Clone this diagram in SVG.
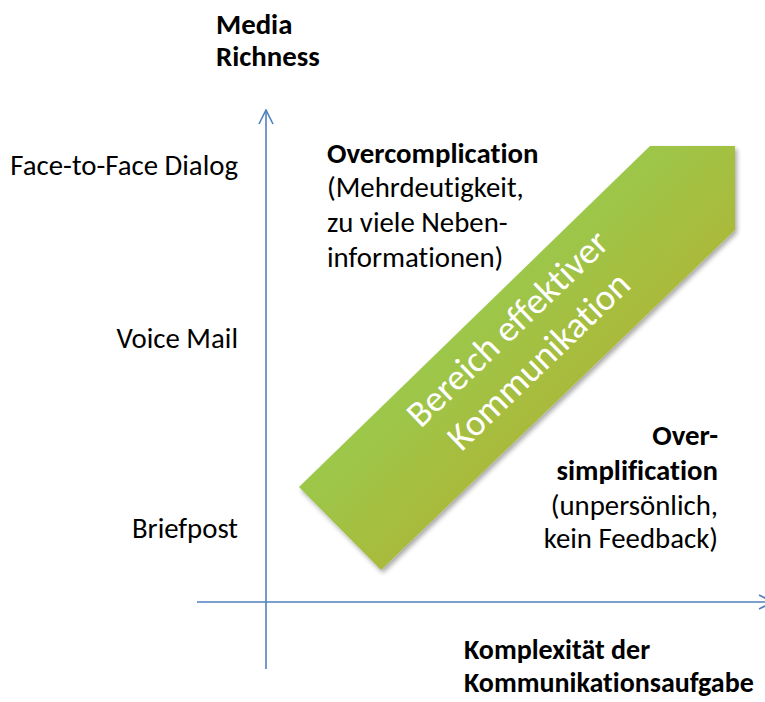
<svg xmlns="http://www.w3.org/2000/svg" width="765" height="702" viewBox="0 0 765 702">
  <style>
    text { font-variant-ligatures: none; font-feature-settings: "liga" 0, "dlig" 0; }
    .lbl { font-family: Carlito, Calibri, Lato, "Liberation Sans", sans-serif; font-size: 28.8px; fill: #000000; }
    .b { font-weight: bold; }
    .axis { stroke: #4F81BD; stroke-width: 1.6; fill: none; }
    .band-text { font-family: Carlito, Calibri, Lato, "Liberation Sans", sans-serif; font-size: 37px; font-weight: normal; fill: #FFFFFF; text-anchor: middle; }
  </style>
  <defs>
    <marker id="open-arrow" viewBox="0 0 16 16" refX="15" refY="8" markerWidth="16" markerHeight="16" markerUnits="userSpaceOnUse" orient="auto">
      <path d="M1,1 L15,8 L1,15" fill="none" stroke="#4F81BD" stroke-width="1.6"/>
    </marker>
    <linearGradient id="band-fill" gradientUnits="userSpaceOnUse" x1="470" y1="310" x2="560" y2="400">
      <stop offset="0" stop-color="#9BC84B"/>
      <stop offset="1" stop-color="#AABA3B"/>
    </linearGradient>
    <filter id="soft-shadow" x="-10%" y="-10%" width="120%" height="120%">
      <feGaussianBlur in="SourceAlpha" stdDeviation="2.5"/>
      <feOffset dx="2" dy="3" result="off"/>
      <feComponentTransfer><feFuncA type="linear" slope="0.35"/></feComponentTransfer>
      <feMerge><feMergeNode/><feMergeNode in="SourceGraphic"/></feMerge>
    </filter>
  </defs>

  <!-- axes -->
  <g id="connectors">
    <line class="axis" x1="266" y1="669" x2="266" y2="110" marker-end="url(#open-arrow)"/>
    <line class="axis" x1="197" y1="602" x2="773" y2="602" marker-end="url(#open-arrow)"/>
  </g>

  <!-- axis titles -->
  <g id="y-axis-title">
    <text class="lbl b" x="216" y="34">Media</text>
    <text class="lbl b" x="216" y="66">Richness</text>
  </g>
  <g id="x-axis-title">
    <text class="lbl b" x="464" y="659" style="font-size:28px">Komplexität der</text>
    <text class="lbl b" x="464" y="692" style="font-size:28px">Kommunikationsaufgabe</text>
  </g>

  <!-- media levels -->
  <g id="level-face-to-face"><text class="lbl" x="238" y="175" text-anchor="end">Face-to-Face Dialog</text></g>
  <g id="level-voice-mail"><text class="lbl" x="238" y="348" text-anchor="end">Voice Mail</text></g>
  <g id="level-briefpost"><text class="lbl" x="238" y="538" text-anchor="end">Briefpost</text></g>

  <!-- effective communication band -->
  <g id="band">
    <polygon points="299,487 650,146 735,146 735,230 381,570" fill="url(#band-fill)" filter="url(#soft-shadow)"/>
    <g transform="translate(531,353) rotate(-44)">
      <text class="band-text" x="0" y="-22">Bereich effektiver</text>
      <text class="band-text" x="0" y="23">Kommunikation</text>
    </g>
  </g>

  <!-- zone annotations -->
  <g id="overcomplication">
    <text class="lbl b" x="327" y="163">Overcomplication</text>
    <text class="lbl" x="327" y="197">(Mehrdeutigkeit,</text>
    <text class="lbl" x="327" y="232">zu viele Neben-</text>
    <text class="lbl" x="327" y="267">informationen)</text>
  </g>
  <g id="oversimplification">
    <text class="lbl b" x="718" y="445" text-anchor="end">Over-</text>
    <text class="lbl b" x="718" y="480" text-anchor="end">simplification</text>
    <text class="lbl" x="718" y="515" text-anchor="end">(unpersönlich,</text>
    <text class="lbl" x="718" y="548" text-anchor="end">kein Feedback)</text>
  </g>
</svg>
